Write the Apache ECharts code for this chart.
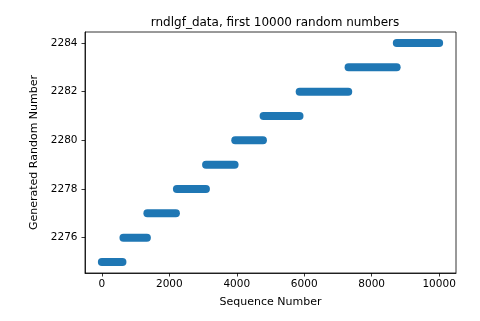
<!DOCTYPE html>
<html>
<head>
<meta charset="utf-8">
<script src="https://cdn.jsdelivr.net/npm/echarts@6/dist/echarts.min.js"></script>
<style>html,body{margin:0;padding:0;background:#fff}#c{width:480px;height:321px}</style>
</head>
<body>
<div id="c"></div>
<script>
// Step levels (generated value) and the sequence range each level covers
const levels = [2275, 2276, 2277, 2278, 2279, 2280, 2281, 2282, 2283, 2284];
const segStart = [0, 640, 1350, 2225, 3090, 3955, 4795, 5865, 7315, 8745];
const segEnd = [610, 1335, 2195, 3085, 3935, 4775, 5860, 7305, 8740, 10000];
const xTicks = [0, 2000, 4000, 6000, 8000, 10000];
const yTicks = [2276, 2278, 2280, 2282, 2284];

const FONT = 'DejaVu Sans';
const series = levels.map((v, i) => ({
  type: 'line',
  data: [[segStart[i], v], [segEnd[i], v]],
  showSymbol: false,
  symbol: 'none',
  silent: true,
  animation: false,
  lineStyle: { color: '#1f77b4', width: 8, cap: 'round' }
}));

const chart = echarts.init(document.getElementById('c'), null, { renderer: 'canvas' });
chart.setOption({
  animation: false,
  title: {
    text: 'rndlgf_data, first 10000 random numbers',
    left: 270, top: 12, textAlign: 'center',
    textStyle: { fontFamily: FONT, fontSize: 12, fontWeight: 'normal', color: '#000' }
  },
  grid: { left: 85, right: 24, top: 32, bottom: 48, show: true, borderColor: '#000', borderWidth: 0.8, backgroundColor: '#fff' },
  xAxis: {
    type: 'value', min: -500, max: 10500,
    name: 'Sequence Number', nameLocation: 'middle', nameGap: 24,
    nameTextStyle: { fontFamily: FONT, fontSize: 11, color: '#000' },
    axisLine: { show: true, onZero: false, lineStyle: { color: '#000', width: 0.8 } },
    axisTick: { show: true, length: 3.5, lineStyle: { color: '#000', width: 0.8 }, customValues: xTicks },
    axisLabel: { fontFamily: FONT, fontSize: 10.5, color: '#000', margin: 6, customValues: xTicks, formatter: v => String(v) },
    splitLine: { show: false }
  },
  yAxis: {
    type: 'value', min: 2274.55, max: 2284.45,
    name: 'Generated Random Number', nameLocation: 'middle', nameGap: 37,
    nameTextStyle: { fontFamily: FONT, fontSize: 11, color: '#000' },
    axisLine: { show: true, onZero: false, lineStyle: { color: '#000', width: 0.8 } },
    axisTick: { show: true, length: 3.5, lineStyle: { color: '#000', width: 0.8 }, customValues: yTicks },
    axisLabel: { fontFamily: FONT, fontSize: 10.5, color: '#000', margin: 7.5, customValues: yTicks, formatter: v => String(v) },
    splitLine: { show: false }
  },
  series: series
});
</script>
</body>
</html>
